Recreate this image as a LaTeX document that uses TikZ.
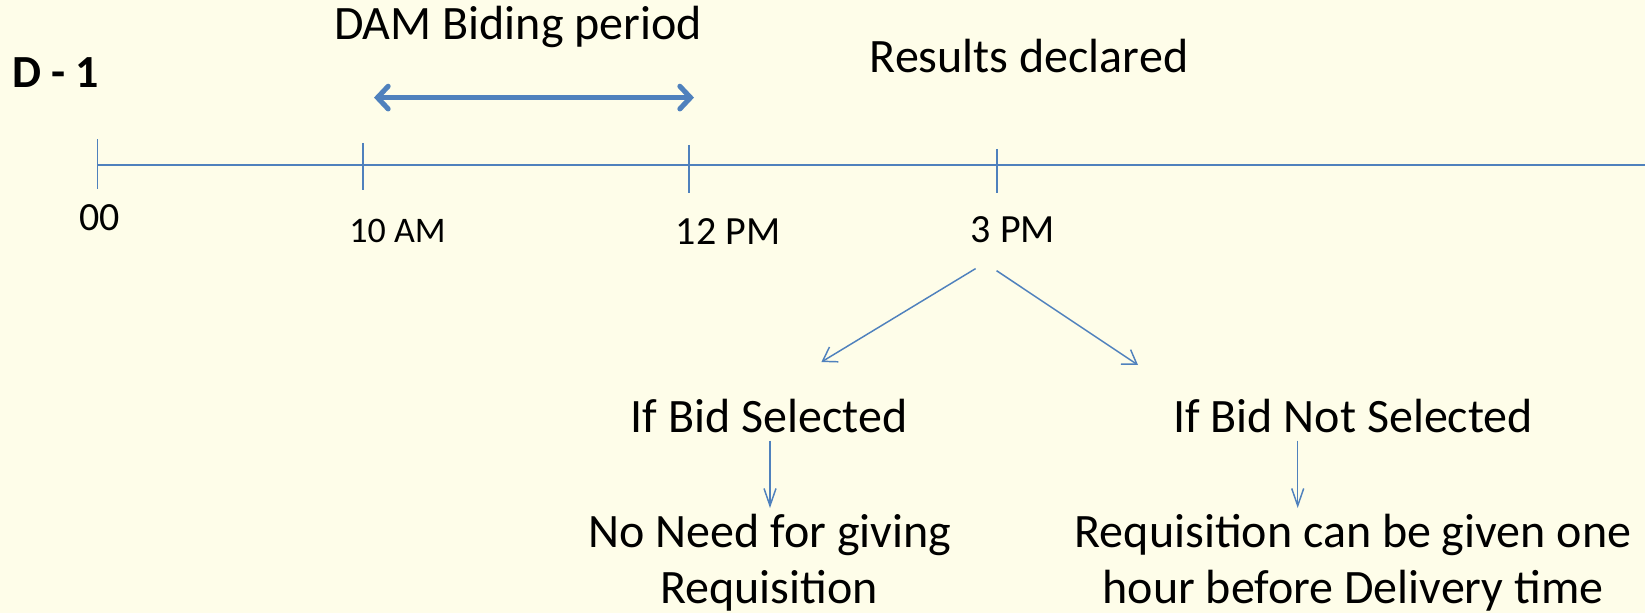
\documentclass[tikz,border=0pt]{standalone}
\usepackage{fontspec}
\setmainfont{Carlito}
\usetikzlibrary{arrows.meta}
\definecolor{bgcol}{HTML}{FEFDE9}
\definecolor{lncol}{HTML}{4F81BD}
\begin{document}
\begin{tikzpicture}[x=0.75pt,y=-0.75pt,
  axisline/.style={draw=lncol,line width=1.3pt},
  tickline/.style={draw=lncol,line width=1.1pt},
  bigtxt/.style={anchor=base,inner sep=0pt,font=\fontsize{36}{40}\selectfont},
  midtxt/.style={anchor=base,inner sep=0pt,font=\fontsize{30}{34}\selectfont},
  smalltxt/.style={anchor=base,inner sep=0pt,font=\fontsize{27}{30}\selectfont},
  span/.style={draw=lncol,line width=3.8pt,line cap=round,{Straight Barb[length=8pt,width=17pt,line cap=round]}-{Straight Barb[length=8pt,width=17pt,line cap=round]}},
  thinarrow/.style={draw=lncol,line width=1.1pt,-{Straight Barb[length=10pt,width=13pt]}},
  downarrow/.style={draw=lncol,line width=1.1pt,-{Straight Barb[length=13pt,width=9pt]}}]
\fill[bgcol] (0,0) rectangle (1645,613);
\useasboundingbox (0,0) rectangle (1645,613);
% titles
\node[bigtxt,font=\fontsize{34.5}{40}\selectfont\bfseries] (d1) at (55.6,87.5) {D - 1};
\node[bigtxt] (dam) at (518,40) {DAM Biding period};
\node[bigtxt] (res) at (1029,73) {Results declared};
% timeline
\coordinate (t0) at (97.6,165);
\coordinate (tend) at (1645,165);
\draw[axisline] (t0) -- (tend);
\coordinate (k0a) at (97.6,139.5); \coordinate (k0b) at (97.6,189);
\coordinate (k1a) at (363,143); \coordinate (k1b) at (363,190);
\coordinate (k2a) at (689,145); \coordinate (k2b) at (689,193);
\coordinate (k3a) at (997,149); \coordinate (k3b) at (997,193);
\draw[tickline] (k0a) -- (k0b);
\draw[tickline] (k1a) -- (k1b);
\draw[tickline] (k2a) -- (k2b);
\draw[tickline] (k3a) -- (k3b);
\node[midtxt] (l00) at (99.7,230) {00};
\node[smalltxt] (l10) at (397.6,242.5) {10 AM};
\node[midtxt] (l12) at (728,244) {12 PM};
\node[midtxt] (l3) at (1013,242) {3 PM};
% bidding period
\coordinate (sa) at (374,97.6);
\coordinate (sb) at (694,97.6);
\draw[span] (sa) -- (sb);
% branches
\coordinate (bl0) at (975.6,268.6); \coordinate (bl1) at (821.4,362);
\coordinate (br0) at (996.6,270.7); \coordinate (br1) at (1138,365);
\draw[thinarrow] (bl0) -- (bl1);
\draw[thinarrow] (br0) -- (br1);
\node[bigtxt] (sel) at (769,432) {If Bid Selected};
\node[bigtxt] (nsel) at (1353,432) {If Bid Not Selected};
\coordinate (dl0) at (770,440.6); \coordinate (dl1) at (770,508);
\coordinate (dr0) at (1297.7,440.6); \coordinate (dr1) at (1297.7,508);
\draw[downarrow] (dl0) -- (dl1);
\draw[downarrow] (dr0) -- (dr1);
\node[bigtxt] (nn1) at (770,547.5) {No Need for giving};
\node[bigtxt] (nn2) at (769,603) {Requisition};
\node[bigtxt] (rq1) at (1353,547.5) {Requisition can be given one};
\node[bigtxt] (rq2) at (1353,603) {hour before Delivery time};
\end{tikzpicture}
\end{document}
